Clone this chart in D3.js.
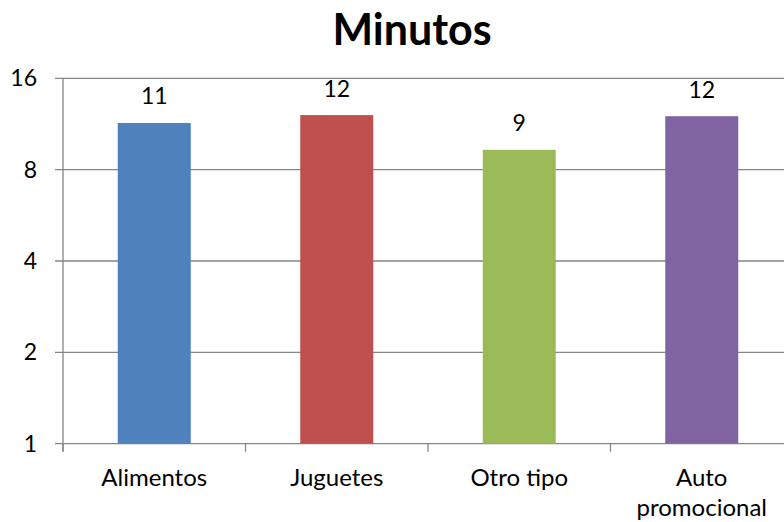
<!DOCTYPE html>
<html>
<head>
<meta charset="utf-8">
<script src="https://cdn.jsdelivr.net/npm/d3@7"></script>
<style>
  body { margin: 0; background: #fff; }
  text { font-family: Lato, "Open Sans", sans-serif; fill: #000; }
</style>
</head>
<body>
<svg id="chart"></svg>
<script>
// chart data
var categories = ["Alimentos", "Juguetes", "Otro tipo", "Auto promocional"];
var minutos = [11.4, 12.1, 9.3, 12.0];
var colors = ["#4F81BD", "#C0504D", "#9BBB59", "#8064A2"];
var yTicks = [1, 2, 4, 8, 16];

var width = 784, height = 522;
// plot area runs past the right edge of the page, as in the original
var margin = { top: 78.3, left: 63, bottom: 443.7, right: 793 };

var svg = d3.select("#chart")
  .attr("width", width)
  .attr("height", height);

var x = d3.scaleBand()
  .domain(categories)
  .range([margin.left, margin.right])
  .paddingInner(0.6)
  .paddingOuter(0.3);

var xTickScale = d3.scaleBand()
  .domain(categories)
  .range([margin.left, margin.right]);

var y = d3.scaleLog()
  .base(2)
  .domain([1, 16])
  .range([margin.bottom, margin.top]);

// gridlines
svg.append("g")
  .selectAll("line")
  .data(yTicks)
  .enter()
  .append("line")
  .attr("x1", margin.left - 8)
  .attr("x2", width)
  .attr("y1", function (d) { return y(d); })
  .attr("y2", function (d) { return y(d); })
  .attr("stroke", "#868686")
  .attr("stroke-width", 1.3);

// y axis line
svg.append("line")
  .attr("x1", margin.left)
  .attr("x2", margin.left)
  .attr("y1", y(16))
  .attr("y2", y(1) + 8)
  .attr("stroke", "#868686")
  .attr("stroke-width", 1.3);

// y tick labels
svg.append("g")
  .selectAll("text")
  .data(yTicks)
  .enter()
  .append("text")
  .attr("x", 37)
  .attr("y", function (d) { return y(d) + 8; })
  .attr("text-anchor", "end")
  .style("font-size", "23px")
  .text(function (d) { return d; });

// category ticks
svg.append("g")
  .selectAll("line")
  .data(categories)
  .enter()
  .append("line")
  .attr("x1", function (d) { return xTickScale(d); })
  .attr("x2", function (d) { return xTickScale(d); })
  .attr("y1", y(1))
  .attr("y2", y(1) + 8)
  .attr("stroke", "#868686")
  .attr("stroke-width", 1.3);

// bars
svg.append("g")
  .selectAll("rect")
  .data(minutos)
  .enter()
  .append("rect")
  .attr("x", function (d, i) { return x(categories[i]); })
  .attr("width", x.bandwidth())
  .attr("y", function (d) { return y(d); })
  .attr("height", function (d) { return y(1) - y(d); })
  .attr("fill", function (d, i) { return colors[i]; });

// value labels
svg.append("g")
  .selectAll("text")
  .data(minutos)
  .enter()
  .append("text")
  .attr("x", function (d, i) { return x(categories[i]) + x.bandwidth() / 2; })
  .attr("y", function (d) { return y(d) - 18.5; })
  .attr("text-anchor", "middle")
  .style("font-size", "23px")
  .text(function (d) { return d3.format(".0f")(d); });

// category labels (wrap on space for the long one)
svg.append("g")
  .selectAll("text")
  .data(categories)
  .enter()
  .append("text")
  .attr("text-anchor", "middle")
  .style("font-size", "24px")
  .each(function (d) {
    var cx = x(d) + x.bandwidth() / 2;
    var lines = d.length > 12 ? d.split(" ") : [d];
    var t = d3.select(this);
    lines.forEach(function (s, i) {
      t.append("tspan")
        .attr("x", cx)
        .attr("y", 486 + i * 30)
        .text(s);
    });
  });

// title
svg.append("text")
  .attr("x", 412)
  .attr("y", 45)
  .attr("text-anchor", "middle")
  .style("font-size", "43px")
  .style("font-weight", "bold")
  .text("Minutos");
</script>
</body>
</html>
